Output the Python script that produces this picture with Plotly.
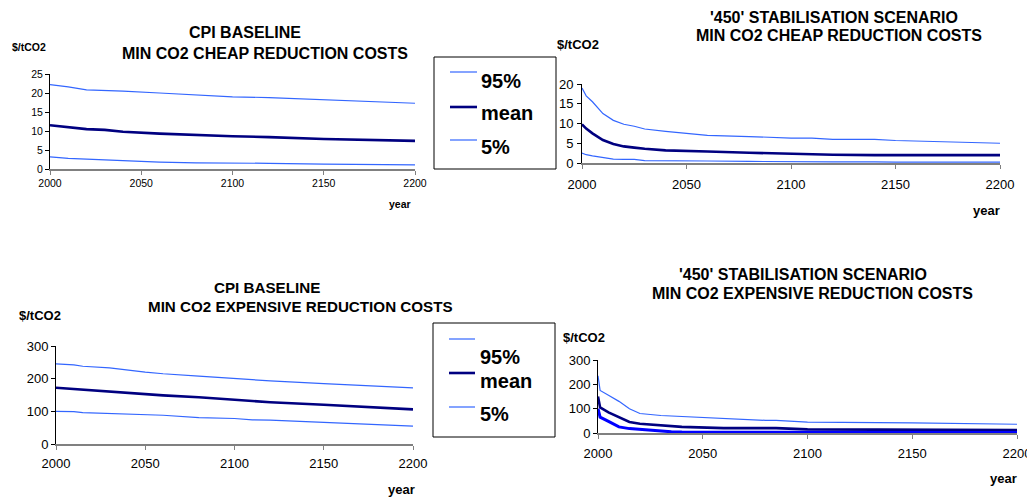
import plotly.graph_objects as go

# Reference canvas size; the page body adds an 8px margin, so the figure is
# drawn 8px smaller and every reference pixel position is shifted by -8.
W_REF, H_REF = 1035, 497
OFF = 8
W, H = W_REF - OFF, H_REF - OFF
FONT = "Liberation Sans, Arial, sans-serif"
LIGHT = "#3366FF"
NAVY = "#000080"
BRIGHT = "#0000FF"

# ---- Panel 1: CPI baseline, cheap reduction costs ----
p1_years = [2000, 2010, 2020, 2030, 2040, 2060, 2080, 2100, 2120, 2150, 2200]
p1_hi = [22.2, 21.6, 20.8, 20.7, 20.5, 20.0, 19.5, 19.0, 18.8, 18.3, 17.3]
p1_mean = [11.5, 11.0, 10.5, 10.3, 9.8, 9.3, 8.9, 8.6, 8.4, 7.9, 7.4]
p1_lo = [3.2, 2.8, 2.6, 2.4, 2.1, 1.8, 1.6, 1.6, 1.5, 1.3, 1.1]

# ---- Panel 2: '450' stabilisation, cheap reduction costs ----
p2_years = [2000, 2002, 2005, 2010, 2015, 2020, 2025, 2030, 2040, 2050, 2060,
            2080, 2100, 2110, 2120, 2140, 2150, 2200]
p2_hi = [19.0, 17.0, 15.5, 12.5, 10.8, 9.8, 9.3, 8.6, 8.0, 7.5, 7.0,
         6.7, 6.3, 6.3, 6.0, 6.0, 5.7, 5.0]
p2_mean = [9.8, 8.7, 7.5, 5.8, 4.8, 4.2, 3.9, 3.6, 3.2, 3.0, 2.9,
           2.6, 2.3, 2.3, 2.1, 2.0, 2.0, 2.0]
p2_lo = [2.5, 2.1, 1.8, 1.4, 1.0, 0.9, 0.9, 0.6, 0.6, 0.5, 0.5,
         0.4, 0.3, 0.3, 0.3, 0.3, 0.2, 0.2]

# ---- Panel 3: CPI baseline, expensive reduction costs ----
p3_years = [2000, 2010, 2015, 2030, 2050, 2060, 2080, 2100, 2110, 2120, 2150, 2200]
p3_hi = [245, 242, 238, 233, 220, 215, 208, 200, 197, 193, 185, 172]
p3_mean = [172, 168, 165, 160, 152, 149, 143, 135, 132, 128, 120, 106]
p3_lo = [100, 99, 96, 93, 89, 88, 81, 78, 74, 73, 66, 55]

# ---- Panel 4: '450' stabilisation, expensive reduction costs ----
p4_years = [2000, 2001, 2005, 2010, 2015, 2020, 2030, 2035, 2040, 2060,
            2080, 2085, 2100, 2150, 2200]
p4_hi = [235, 175, 155, 130, 100, 80, 72, 70, 65, 57, 52, 52, 45, 42, 36]
p4_mean = [150, 105, 85, 65, 45, 38, 30, 28, 25, 20, 20, 20, 15, 14, 12]
p4_lo = [100, 65, 48, 25, 18, 15, 6, 5, 4, 4, 3, 3, 3, 2, 2]

legend_labels = ["95%", "mean", "5%"]

fig = go.Figure()

def add_panel(n, years, hi, mean, lo, lo_color=LIGHT, lo_width=1.2):
    xa = "x" if n == 1 else f"x{n}"
    ya = "y" if n == 1 else f"y{n}"
    fig.add_trace(go.Scatter(x=years, y=hi, mode="lines", name=legend_labels[0],
                             line=dict(color=LIGHT, width=1.2), xaxis=xa, yaxis=ya,
                             showlegend=False))
    fig.add_trace(go.Scatter(x=years, y=mean, mode="lines", name=legend_labels[1],
                             line=dict(color=NAVY, width=2.6), xaxis=xa, yaxis=ya,
                             showlegend=False))
    fig.add_trace(go.Scatter(x=years, y=lo, mode="lines", name=legend_labels[2],
                             line=dict(color=lo_color, width=lo_width), xaxis=xa, yaxis=ya,
                             showlegend=False))

add_panel(1, p1_years, p1_hi, p1_mean, p1_lo)
add_panel(2, p2_years, p2_hi, p2_mean, p2_lo)
add_panel(3, p3_years, p3_hi, p3_mean, p3_lo)
add_panel(4, p4_years, p4_hi, p4_mean, p4_lo, lo_color=BRIGHT, lo_width=3)

def px(x):
    return (x - OFF) / W

def py(y):
    return 1 - (y - OFF) / H

def xd(a, b):
    return [px(a), px(b)]

def yd(top, bottom):
    return [py(bottom), py(top)]

def axis_pair(xdom, ydom, yrange, ydtick, fsize, xline="#808080", xlw=1.5, ystand=0, xstand=0):
    xa = dict(domain=xdom, range=[2000, 2200], tickvals=[2000, 2050, 2100, 2150, 2200],
              showline=True, linecolor=xline, linewidth=xlw, ticks="outside", ticklen=4,
              tickcolor=xline, showgrid=False, zeroline=False, fixedrange=True,
              automargin=False,
              tickfont=dict(family=FONT, size=fsize, color="black"),
              ticklabelstandoff=xstand)
    ya = dict(domain=ydom, range=yrange, dtick=ydtick, tick0=0,
              showline=True, linecolor="black", linewidth=1, ticks="outside", ticklen=4,
              tickcolor="black", showgrid=False, zeroline=False, fixedrange=True,
              automargin=False,
              tickfont=dict(family=FONT, size=fsize, color="black"),
              ticklabelstandoff=ystand)
    return xa, ya

x1, y1 = axis_pair(xd(50, 415), yd(74, 169), [0, 25], 5, 10.5, xstand=0, ystand=0)
x2, y2 = axis_pair(xd(582, 1000), yd(84, 163), [0, 20], 5, 13, xstand=5, ystand=1)
x3, y3 = axis_pair(xd(56, 413), yd(346, 444), [0, 300], 100, 13, xstand=3, ystand=0)
x4, y4 = axis_pair(xd(598, 1017), yd(360, 433), [0, 300], 100, 13, xstand=4, ystand=0)
x1["anchor"] = "y"; y1["anchor"] = "x"
x2["anchor"] = "y2"; y2["anchor"] = "x2"
x3["anchor"] = "y3"; y3["anchor"] = "x3"
x4["anchor"] = "y4"; y4["anchor"] = "x4"

annotations = []

def txt(s, x, y, size, xanchor="center", yanchor="middle"):
    annotations.append(dict(text=s, x=px(x), y=py(y), xref="paper", yref="paper",
                            xanchor=xanchor, yanchor=yanchor, showarrow=False,
                            font=dict(family=FONT, size=size, color="black")))

# Titles
txt("<b>CPI BASELINE</b>", 244.5, 32, 16)
txt("<b>MIN CO2 CHEAP REDUCTION COSTS</b>", 264.5, 54, 16)
txt("<b>'450' STABILISATION SCENARIO</b>", 833.5, 17, 16)
txt("<b>MIN CO2 CHEAP REDUCTION COSTS</b>", 839, 36, 16)
txt("<b>CPI BASELINE</b>", 266.5, 287, 15.2)
txt("<b>MIN CO2 EXPENSIVE REDUCTION COSTS</b>", 300, 306, 15.2)
txt("<b>'450' STABILISATION SCENARIO</b>", 803, 274, 16)
txt("<b>MIN CO2 EXPENSIVE REDUCTION COSTS</b>", 812, 293, 16)

# Axis titles
txt("<b>$/tCO2</b>", 10, 47, 10.5, xanchor="left")
txt("<b>year</b>", 413, 204, 10.5, xanchor="right")
txt("<b>$/tCO2</b>", 555, 45, 13, xanchor="left")
txt("<b>year</b>", 1002, 210, 13, xanchor="right")
txt("<b>$/tCO2</b>", 17, 315, 13, xanchor="left")
txt("<b>year</b>", 417, 489, 13, xanchor="right")
txt("<b>$/tCO2</b>", 561, 337, 13, xanchor="left")
txt("<b>year</b>", 1019, 478, 13, xanchor="right")

shapes = []

def legend_box(x0, y0, x1_, y1_, line_ys, text_ys, sx0, sx1, tx, colors, widths):
    shapes.append(dict(type="rect", xref="paper", yref="paper",
                       x0=px(x0), x1=px(x1_), y0=py(y1_), y1=py(y0),
                       line=dict(color="black", width=1), fillcolor="white"))
    for lab, ly, ty, c, w in zip(legend_labels, line_ys, text_ys, colors, widths):
        shapes.append(dict(type="line", xref="paper", yref="paper",
                           x0=px(sx0), x1=px(sx1), y0=py(ly), y1=py(ly),
                           line=dict(color=c, width=w)))
        txt(f"<b>{lab}</b>", tx, ty, 20, xanchor="left")

legend_box(434, 57, 556, 169, [72, 107, 140], [81, 113, 147], 450, 477, 479,
           [LIGHT, NAVY, LIGHT], [1.2, 2.6, 1.2])
legend_box(433, 323, 555, 437, [339, 373, 407], [357, 381, 414], 449, 475, 478,
           [LIGHT, NAVY, LIGHT], [1.2, 2.6, 1.2])

fig.update_layout(
    template="none",
    width=W, height=H,
    margin=dict(l=0, r=0, t=0, b=0, pad=0, autoexpand=False),
    paper_bgcolor="white", plot_bgcolor="white",
    showlegend=False,
    xaxis=x1, yaxis=y1, xaxis2=x2, yaxis2=y2,
    xaxis3=x3, yaxis3=y3, xaxis4=x4, yaxis4=y4,
    annotations=annotations, shapes=shapes,
)

fig.write_html("out.html")
